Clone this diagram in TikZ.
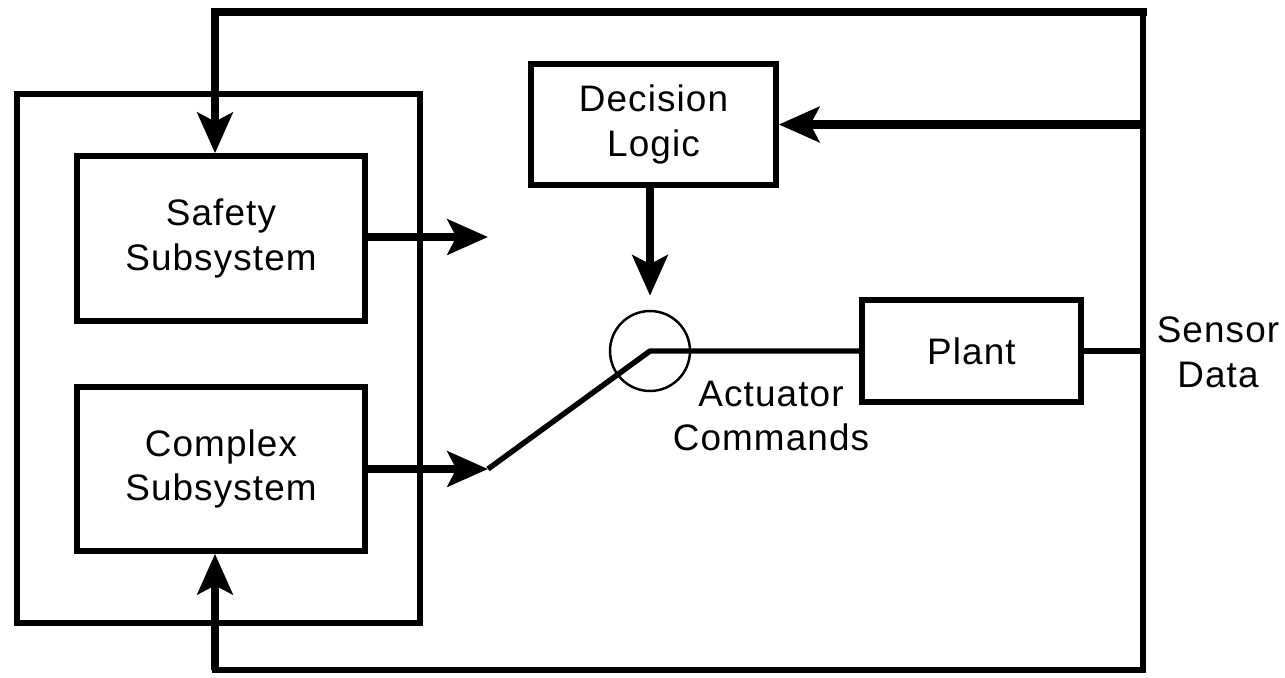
\documentclass[tikz,border=0pt]{standalone}
\usepackage{fontspec}
\setmainfont{Liberation Sans}[LetterSpace=3]
\usetikzlibrary{arrows.meta,calc}

\begin{document}
\begin{tikzpicture}[x=0.02cm,y=-0.02cm,
  every node/.style={font=\fontsize{21}{25.5}\selectfont, align=center, inner sep=0pt},
  block/.style={draw, line width=3.2pt, rectangle},
  heavy/.style={line width=4.8pt, -{Stealth[length=23pt,width=20pt,inset=5pt]}},
  heavyline/.style={line width=4.6pt},
  wire/.style={line width=3.1pt},
  switchring/.style={draw, circle, line width=1.4pt, minimum size=1.6cm}
]
\useasboundingbox (0,0) rectangle (1285,677);

% enclosure round the two subsystems
\node (group) [block, line width=3.7pt, minimum width=8.06cm, minimum height=10.58cm] at (218.5,358.5) {};

% blocks
\node (safety)   [block, minimum width=5.76cm, minimum height=3.3cm]  at (221,238.5) {Safety\\Subsystem};
\node (complex)  [block, minimum width=5.76cm, minimum height=3.28cm] at (221,469)   {Complex\\Subsystem};
\node (decision) [block, minimum width=4.9cm,  minimum height=2.42cm] at (653.5,124.5) {Decision\\Logic};
\node (plant)    [block, minimum width=4.38cm, minimum height=2.04cm] at (971.5,351) {Plant};
\node (sw)       [switchring] at (650,351) {};

% labels
\node (act)    at (771,416)  {Actuator\\Commands};
\node (sensor) at (1218,352) {Sensor\\Data};

% corners of the feedback loop
\coordinate (tr) at (1143,12);
\coordinate (tl) at (215,12);
\coordinate (br) at (1143,670);
\coordinate (bl) at (215,670);
\coordinate (tap) at (1143,351);
\coordinate (safeout) at (488,237);
\coordinate (swin) at (488,469);

% sensor data bus
\draw[wire] (plant.east) -- (tap);
\draw[wire, line cap=rect] (tr) -- (br) -- (bl);
\draw[heavyline, line cap=rect] (tr) -- (tl);

% feedback into the subsystems and decision logic
\draw[heavy] (tl) -- (tl |- safety.north);
\draw[heavy] (bl) -- (bl |- complex.south);
\draw[heavy] (tr |- decision.east) -- (decision.east);

% subsystem outputs
\draw[heavy] (safety.east |- safeout) -- (safeout);
\draw[heavy] (complex.east |- swin) -- (swin);

% switch and command line
\draw[heavy, shorten >=8pt] (decision.south -| sw.north) -- (sw.north);
\draw[wire, line join=round] (swin) -- (sw.center) -- (plant.west);
\end{tikzpicture}
\end{document}
